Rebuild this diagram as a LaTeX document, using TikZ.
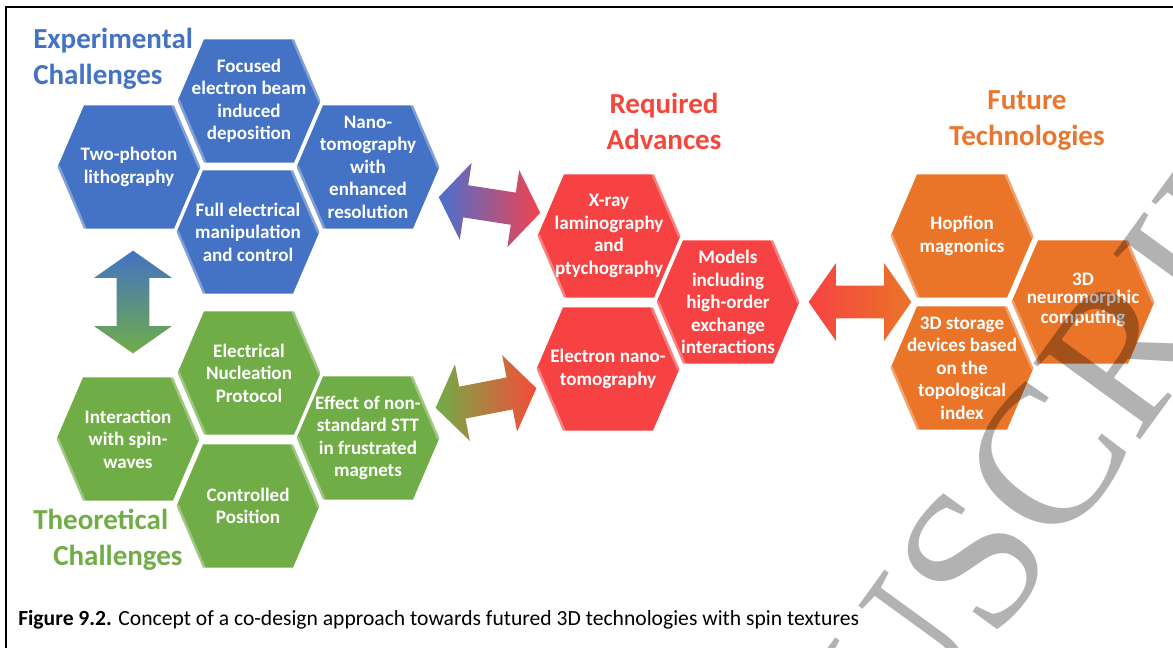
\documentclass[tikz,border=0pt]{standalone}
\usepackage{fontspec}
\setmainfont{Carlito}
\newfontfamily\wmfont{Liberation Serif}
\usetikzlibrary{shapes.arrows}

\definecolor{hexblue}{RGB}{68,114,196}
\definecolor{hexgreen}{RGB}{112,173,71}
\definecolor{hexred}{RGB}{246,66,66}
\definecolor{hexorange}{RGB}{234,117,40}
\definecolor{arrowblue}{RGB}{72,112,208}
\definecolor{arrowred}{RGB}{242,66,78}
\definecolor{arrowredorange}{RGB}{246,76,56}
\definecolor{titlered}{RGB}{246,70,60}
\definecolor{titleorange}{RGB}{232,118,45}

\tikzset{
  hexlabel/.style={text=white, font=\fontsize{14.3}{16.9}\selectfont\bfseries,
    align=center, inner sep=0pt},
  grouptitle/.style={font=\fontsize{21.75}{27}\selectfont\bfseries, inner sep=0pt},
  blockarrow/.style={double arrow, draw=none, inner xsep=0pt, inner ysep=12pt,
    minimum height=77pt, double arrow head extend=17pt, double arrow tip angle=110},
}

% one bevelled hexagon cell: name, x, y, colour, label
\newcommand{\hexcell}[5]{%
  \begin{scope}[shift={(#2,#3)}]
    \fill[#4] (-73,0) -- (-46,-63) -- (46,-63) -- (73,0) -- (46,63) -- (-46,63) -- cycle;
    \begin{scope}
      \clip (-73,0) -- (-46,-63) -- (46,-63) -- (73,0) -- (46,63) -- (-46,63) -- cycle;
      \draw[#4!68!white, line width=6pt] (46,-63) -- (73,0);
      \draw[#4!68!white, line width=6pt] (-73,0) -- (-46,63);
    \end{scope}
    \draw[white, line width=2pt] (-73,0) -- (-46,-63) -- (46,-63) -- (73,0) -- (46,63) -- (-46,63) -- cycle;
    \node[hexlabel] (#1) at (0,0) {#5};
  \end{scope}}

\begin{document}
\begin{tikzpicture}[x=0.75pt, y=-0.75pt]
  \useasboundingbox (0,0) rectangle (1173,648);
  \fill[white] (0,0) rectangle (1173,648);

  % frame
  \draw[line width=1.5pt] (6,648) -- (6,7) -- (1173,7);

  % experimental challenges
  \hexcell{two}{129}{167}{hexblue}{Two-photon\\lithography}
  \hexcell{focused}{249}{101}{hexblue}{Focused\\electron beam\\induced\\deposition}
  \hexcell{full}{248}{232}{hexblue}{Full electrical\\manipulation\\and control}
  \hexcell{nano}{368}{167}{hexblue}{Nano-\\tomography\\with\\enhanced\\resolution}

  % theoretical challenges
  \hexcell{inter}{128}{439}{hexgreen}{Interaction\\with spin-\\waves}
  \hexcell{nucl}{249}{373}{hexgreen}{Electrical\\Nucleation\\Protocol}
  \hexcell{ctrl}{248}{506}{hexgreen}{Controlled\\Position}
  \hexcell{effect}{368}{438}{hexgreen}{Effect of non-\\standard STT\\in frustrated\\magnets}

  % required advances
  \hexcell{xray}{609}{236}{hexred}{X-ray\\laminography\\and\\ptychography}
  \hexcell{elec}{608}{369}{hexred}{Electron nano-\\tomography}
  \hexcell{models}{728}{302}{hexred}{Models\\including\\high-order\\exchange\\interactions}

  % future technologies
  \hexcell{hopf}{962}{236}{hexorange}{Hopfion\\magnonics}
  \hexcell{stor}{962}{368}{hexorange}{3D storage\\devices based\\on the\\topological\\index}
  \hexcell{neuro}{1083}{302}{hexorange}{\raisebox{5pt}{\shortstack{3D\\neuromorphic\\computing}}}

  % group titles
  \node[grouptitle, text=hexblue, align=left, anchor=west] (tExp) at (33,59)
    {Experimental\\Challenges};
  \node[grouptitle, text=hexgreen, align=left, anchor=west] (tTheo) at (33,540)
    {Theoretical\\\hspace*{15pt}Challenges};
  \node[grouptitle, text=titlered, align=center] (tReq) at (664,121)
    {Required\\Advances};
  \node[grouptitle, text=titleorange, align=center] (tFut) at (1027,121)
    {Future\\Technologies};

  % block arrows between the groups
  \node[blockarrow, rotate=90, top color=hexblue, bottom color=hexgreen] (vArrow) at (133,302) {};
  \node[blockarrow, rotate=-8.8, left color=arrowblue, right color=arrowred] (brArrow) at (489.5,205) {};
  \node[blockarrow, rotate=11, left color=hexgreen, right color=arrowredorange] (grArrow) at (486,398) {};
  \node[blockarrow, left color=hexred, right color=hexorange] (roArrow) at (860,302) {};

  % caption
  \node[anchor=west, inner sep=0pt, font=\fontsize{16.2}{19}\selectfont] (caption) at (18,620)
    {\textbf{Figure 9.2.} Concept of a co-design approach towards futured 3D technologies with spin textures};

  % watermark
  \node[rotate=54, inner sep=0pt, text=black, text opacity=0.3,
    font=\wmfont\fontsize{150}{150}\selectfont] (wm) at (960,578) {MANUSCRIPT};
\end{tikzpicture}
\end{document}
